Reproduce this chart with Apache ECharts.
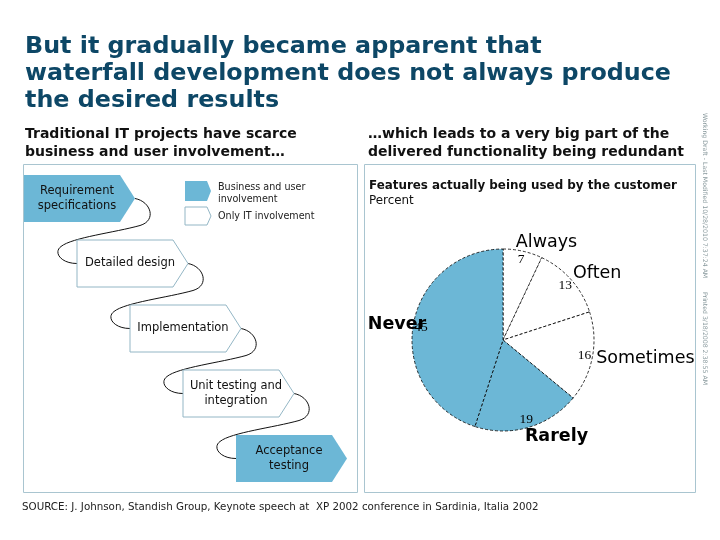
<!DOCTYPE html>
<html>
<head>
<meta charset="utf-8">
<script src="https://cdn.jsdelivr.net/npm/echarts@6/dist/echarts.min.js"></script>
<style>html,body{margin:0;padding:0;background:#fff}#c{width:720px;height:540px}</style>
</head>
<body>
<div id="c"></div>
<script>
// ---- data ----
const categories = ['Always', 'Often', 'Sometimes', 'Rarely', 'Never'];
const values = [7, 13, 16, 19, 45];
const businessInvolved = [false, false, false, true, true];
const steps = ['Requirement\nspecifications', 'Detailed design', 'Implementation', 'Unit testing and\nintegration', 'Acceptance\ntesting'];
const stepBusiness = [true, false, false, false, true];
const titleLines = ['But it gradually became apparent that', 'waterfall development does not always produce', 'the desired results'];
const leftHeading = 'Traditional IT projects have scarce\nbusiness and user involvement…';
const rightHeading = '…which leads to a very big part of the\ndelivered functionality being redundant';
const pieTitle = 'Features actually being used by the customer';
const pieUnit = 'Percent';
const legendItems = ['Business and user\ninvolvement', 'Only IT involvement'];
const sourceText = 'SOURCE: J. Johnson, Standish Group, Keynote speech at  XP 2002 conference in Sardinia, Italia 2002';
const sideNote = 'Working Draft - Last Modified 10/28/2010 7:37:24 AM       Printed 3/18/2008 2:38:55 AM';

// ---- style ----
const BLUE = '#6cb7d6';
const NAVY = '#0d4766';
const FRAME = '#a9c5d0';
const FONT = 'DejaVu Sans';

const chart = echarts.init(document.getElementById('c'), null, {renderer: 'canvas'});

function chevron(x, y, w, h, p, filled) {
  return {
    type: 'polygon',
    shape: {points: [[x, y], [x + w, y], [x + w + p, y + h / 2], [x + w, y + h], [x, y + h]]},
    style: filled ? {fill: BLUE, stroke: null} : {fill: '#fff', stroke: '#93b6c5', lineWidth: 1}
  };
}
function txt(x, y, text, font, extra) {
  return {type: 'text', x: x, y: y, style: Object.assign({text: text, font: font, fill: '#111', textVerticalAlign: 'top'}, extra || {})};
}
function bez(a, c1, c2, b) {
  return {type: 'bezierCurve', z: -1, shape: {x1: a[0], y1: a[1], cpx1: c1[0], cpy1: c1[1], cpx2: c2[0], cpy2: c2[1], x2: b[0], y2: b[1]}, style: {fill: null, stroke: '#111', lineWidth: 1}};
}

const g = [];
// title
g.push(txt(25, 33, titleLines.join('\n'), 'bold 23.8px ' + FONT, {fill: NAVY, lineHeight: 27}));
g.push(txt(25, 125, leftHeading, 'bold 14px ' + FONT, {lineHeight: 18}));
g.push(txt(368, 125, rightHeading, 'bold 14px ' + FONT, {lineHeight: 18}));
// frames
g.push({type: 'rect', shape: {x: 23.5, y: 164.5, width: 334, height: 328}, style: {fill: null, stroke: FRAME, lineWidth: 1}});
g.push({type: 'rect', shape: {x: 364.5, y: 164.5, width: 331, height: 328}, style: {fill: null, stroke: FRAME, lineWidth: 1}});
// pie title
g.push(txt(369, 180, pieTitle, 'bold 11.9px ' + FONT));
g.push(txt(369, 195, pieUnit, '11.9px ' + FONT));
// legend
g.push(chevron(185, 181, 22, 20, 4, true));
g.push(txt(218, 181, legendItems[0], '9.6px ' + FONT, {fill: '#222', lineHeight: 12}));
g.push(chevron(185, 207, 22, 18, 4, false));
g.push(txt(218, 211, legendItems[1], '9.6px ' + FONT, {fill: '#222'}));

// waterfall steps
const x0 = 24, y0 = 175, dx = 53, dy = 65, w = 96, h = 47, pt = 15;
steps.forEach((s, i) => {
  const x = x0 + i * dx, y = y0 + i * dy;
  g.push(chevron(x, y, w, h, pt, stepBusiness[i]));
  g.push({type: 'text', x: x + w / 2 + 5, y: y + h / 2, style: {text: s, font: '11.5px ' + FONT, fill: '#111', textAlign: 'center', textVerticalAlign: 'middle', lineHeight: 15}});
  if (i < steps.length - 1) {
    const tx = x + w + pt, ty = y + h / 2;
    const nx = x + dx, ny = y + dy + h / 2;
    const p1 = [tx + 5, ty + 27], p2 = [nx - 16, ny - 17];
    g.push(bez([tx, ty], [tx + 16, ty + 3], [tx + 22, ty + 22], p1));
    g.push(bez(p1, [tx - 20, ty + 34], [nx - 5, ny - 26], p2));
    g.push(bez(p2, [nx - 24, ny - 11], [nx - 16, ny], [nx, ny]));
  }
});

// source
g.push(txt(22, 502, sourceText, '10.3px ' + FONT, {fill: '#222'}));
// side note
g.push({type: 'text', x: 705, y: 113, rotation: -Math.PI / 2, style: {text: sideNote, font: '6.2px ' + FONT, fill: '#8a9a9e', textAlign: 'left', textVerticalAlign: 'middle'}});

const pieData = categories.map((c, i) => ({
  name: c, value: values[i],
  itemStyle: {color: businessInvolved[i] ? BLUE : '#fff'},
  label: {fontWeight: businessInvolved[i] ? 'bold' : 'normal'}
}));
const labelShift = [-9, -5, -5, -6, 22];

chart.setOption({
  animation: false,
  graphic: {elements: g},
  series: [
    {
      type: 'pie', center: [503, 340], radius: [0, 91], startAngle: 90, clockwise: true,
      avoidLabelOverlap: false, silent: true,
      data: pieData,
      itemStyle: {borderColor: '#000', borderWidth: 0.8, borderType: [3, 2]},
      label: {show: true, position: 'outside', formatter: '{b}', fontFamily: FONT, fontSize: 17.5, color: '#000', distanceToLabelLine: 0},
      labelLine: {show: false, length: 9, length2: 0},
      labelLayout: p => ({dx: labelShift[p.dataIndex]}),
      emphasis: {disabled: true}
    },
    {
      type: 'pie', center: [503, 340], radius: [69, 91], startAngle: 90, clockwise: true,
      avoidLabelOverlap: false, silent: true, z: 3,
      data: categories.map((c, i) => ({name: c, value: values[i]})),
      itemStyle: {color: 'rgba(0,0,0,0)', borderWidth: 0},
      label: {show: true, position: 'inside', formatter: '{c}', fontFamily: 'Liberation Serif', fontSize: 13.5, color: '#000'},
      labelLine: {show: false},
      emphasis: {disabled: true}
    }
  ]
});
</script>
</body>
</html>
